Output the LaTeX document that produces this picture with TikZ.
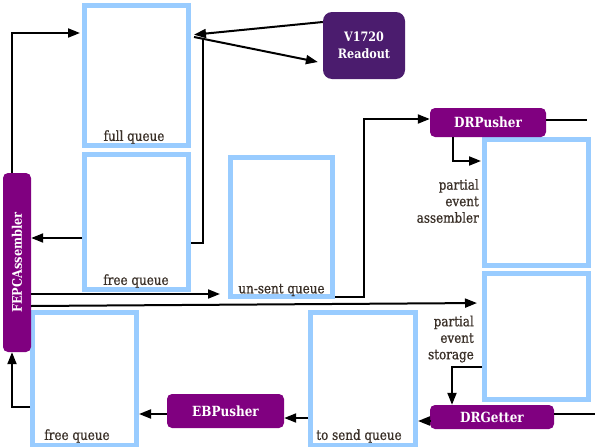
\documentclass[tikz,border=0pt]{standalone}
\usepackage{fontspec}
\setmainfont{DejaVu Serif}[FakeStretch=0.86]
\newfontfamily\labfont{DejaVu Serif}[FakeStretch=0.86,FakeBold=0.8]
\usetikzlibrary{arrows.meta,calc}
\definecolor{qblue}{HTML}{99CCFF}
\definecolor{purp}{HTML}{800080}
\definecolor{dpurp}{HTML}{4B1C6E}
\definecolor{lbl}{HTML}{3A3028}
\begin{document}
\begin{tikzpicture}[x=1pt,y=-1pt,
  qbox/.style={draw=qblue,line width=5pt,fill=white,inner sep=0pt,outer sep=2.5pt},
  pnode/.style={fill=purp,text=white,font=\bfseries\fontsize{14}{16}\selectfont,rounded corners=5pt,inner sep=0pt,align=center},
  lab/.style={text=lbl,font=\labfont\fontsize{13.9}{16.5}\selectfont,inner sep=0pt},
  arr/.style={line width=2pt,-{Triangle[length=12pt,width=9pt]}},
  ln/.style={line width=2pt}]
\useasboundingbox[fill=white] (0,0) rectangle (600,447);
% queue boxes
\node[qbox,minimum width=104pt,minimum height=140pt] (fullq) at (136.5,75.5) {};
\node[qbox,minimum width=104pt,minimum height=135pt] (freeq) at (136.5,222) {};
\node[qbox,minimum width=102pt,minimum height=139pt] (unsent) at (281.5,227) {};
\node[qbox,minimum width=104pt,minimum height=126pt] (pea) at (536.5,202.5) {};
\node[qbox,minimum width=104pt,minimum height=126pt] (pes) at (536.5,336.5) {};
\node[qbox,minimum width=104pt,minimum height=133pt] (free2) at (84.5,379) {};
\node[qbox,minimum width=105pt,minimum height=133pt] (tosend) at (363,379) {};
% labels
\node[lab] (lfull) at (134,137) {full queue};
\node[lab] (lfree) at (136,281) {free queue};
\node[lab] (lunsent) at (281.5,290) {un-sent queue};
\node[lab,align=right,anchor=east] (lpea) at (479,201) {partial\\event\\assembler};
\node[lab,align=right,anchor=east] (lpes) at (474,339) {partial\\event\\storage};
\node[lab] (lfree2) at (77,436) {free queue};
\node[lab] (ltosend) at (359,436) {to send queue};
% process nodes
\node[pnode,fill=dpurp,rounded corners=9pt,minimum width=82pt,minimum height=67pt,font=\bfseries\fontsize{13}{17}\selectfont] (v1720) at (364,45.5) {V1720\\Readout};
\node[pnode,minimum width=116pt,minimum height=29pt] (drpusher) at (488,122.5) {DRPusher};
\node[pnode,minimum width=28pt,minimum height=179pt] (fepc) at (17,262.5) {\rotatebox{90}{\fontsize{13.2}{14}\selectfont FEPCAssembler}};
\node[pnode,minimum width=117pt,minimum height=34pt] (ebpusher) at (225.5,411) {EBPusher};
\node[pnode,minimum width=124pt,minimum height=24pt] (drgetter) at (492,417) {DRGetter};
% free ends
\coordinate (drpend) at (587,120);
\coordinate (drgend) at (595,414);
\coordinate (junc) at (203,39);
% connectors
\draw[arr,shorten >=2pt] (fepc.north -| 12,0) |- (fullq.west |- 0,33);
\draw[arr,shorten >=3pt] (v1720.west |- 0,22) -- (fullq.east |- 0,35);
\draw[arr,shorten >=5pt] ([xshift=3pt]fullq.east |- 0,37) -- (v1720.west |- 0,63);
\draw[ln] (freeq.east |- 0,243) -| (junc);
\draw[arr] (freeq.west |- 0,238) -- (fepc.east |- 0,238);
\draw[arr,shorten >=8pt] (fepc.east |- 0,294) -- (unsent.west |- 0,294);
\draw[arr] (unsent.east |- 0,297) -- (364,297) |- (drpusher.west |- 0,119);
\draw[ln] (drpusher.east |- 0,120) -- (drpend);
\draw[arr,shorten >=1pt] (drpusher.south -| 453,0) |- (pea.west |- 0,161);
\draw[arr,shorten >=5pt] (fepc.east |- 0,306) -- (pes.west |- 0,303);
\draw[arr] (pes.west |- 0,367) -| (drgetter.north -| 452,0);
\draw[ln] (drgetter.east |- 0,414) -- (drgend);
\draw[arr] (drgetter.west |- 0,421) -- (tosend.east |- 0,421);
\draw[arr] (tosend.west |- 0,418) -- (ebpusher.east |- 0,418);
\draw[arr] (ebpusher.west |- 0,414) -- (free2.east |- 0,414);
\draw[arr] (free2.west |- 0,407) -| (fepc.south -| 12,0);
\end{tikzpicture}
\end{document}
